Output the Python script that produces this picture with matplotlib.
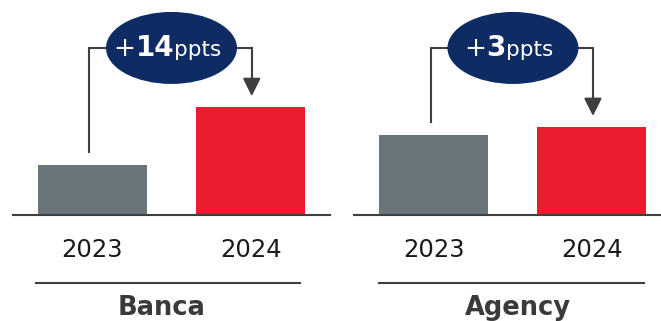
import matplotlib
matplotlib.use("Agg")
import matplotlib.pyplot as plt
from matplotlib.patches import Ellipse
from matplotlib.offsetbox import TextArea, HPacker, AnnotationBbox
import matplotlib.transforms as mtransforms

plt.rcParams['font.family'] = ['DejaVu Sans']

# Data
years = ["2023", "2024"]
segments = ["Banca", "Agency"]
banca_values = [12, 26]
agency_values = [30, 33]
deltas = ["14", "3"]

GREY = "#6a747b"
RED = "#ec1c2f"
NAVY = "#0f2b63"
LINE = "#3f3f3f"
TEXT = "#1a1a1a"
LABEL = "#3a3a3a"

W, H = 661, 321
fig = plt.figure(figsize=(W / 100, H / 100), dpi=100)

# panel layout in pixels
baseline_px = 215
panels = [
    dict(left=13, right=330, xlim=(-0.5, 1.5), ymax=51.8,
         values=banca_values, name_x=0.44, sep=(-0.355, 1.31)),
    dict(left=354, right=661, xlim=(-0.506, 1.437), ymax=80.6,
         values=agency_values, name_x=0.53, sep=(-0.35, 1.33)),
]

for p, name, delta in zip(panels, segments, deltas):
    ax = fig.add_axes([p["left"] / W, (H - baseline_px) / H,
                       (p["right"] - p["left"]) / W, baseline_px / H])
    ax.set_xlim(*p["xlim"])
    ax.set_ylim(0, p["ymax"])
    for s in ["top", "right", "left"]:
        ax.spines[s].set_visible(False)
    ax.spines["bottom"].set_color(LINE)
    ax.spines["bottom"].set_linewidth(1.5)
    ax.set_yticks([])

    x = [0, 1]
    ax.bar(x, p["values"], width=0.69, color=[GREY, RED], zorder=2)
    ax.set_xticks(x, years)
    ax.tick_params(axis="x", length=0, pad=16.5, labelsize=17.5, labelcolor=TEXT)

    # pixel -> data helpers
    dy = p["ymax"] / ax.bbox.height
    dx = (p["xlim"][1] - p["xlim"][0]) / ax.bbox.width
    y_h = 0.777 * p["ymax"]
    y_start = p["values"][0] + 13 * dy
    y_tip = p["values"][1] + 11 * dy
    x_l, x_r = -3 * dx, 1 + 1 * dx

    # bracket from 2023 bar over to 2024 bar
    ax.plot([x_l, x_l, x_r, x_r], [y_start, y_h, y_h, y_tip + 13 * dy],
            color=LINE, lw=1.5, solid_joinstyle="miter", clip_on=False, zorder=3)
    ax.annotate("", xy=(x_r, y_tip), xytext=(x_r, y_tip + 16 * dy),
                arrowprops=dict(arrowstyle="-|>,head_length=0.54,head_width=0.27",
                                mutation_scale=20, color=LINE, lw=1.5,
                                shrinkA=0, shrinkB=0),
                annotation_clip=False, zorder=3)

    # delta badge
    ell = Ellipse((0.5, y_h), width=131 * dx, height=72 * dy,
                  facecolor=NAVY, edgecolor="none", zorder=4, clip_on=False)
    ax.add_patch(ell)
    parts = HPacker(children=[
        TextArea("+", textprops=dict(color="white", fontsize=19)),
        TextArea(delta, textprops=dict(color="white", fontsize=20, fontweight="bold")),
        TextArea("ppts", textprops=dict(color="white", fontsize=15.5)),
    ], align="baseline", pad=0, sep=0)
    ab = AnnotationBbox(parts, (0.5 - 4 * dx, y_h), frameon=False,
                        box_alignment=(0.5, 0.5), annotation_clip=False, zorder=5)
    ax.add_artist(ab)

    # separator and segment name
    trans = mtransforms.blended_transform_factory(ax.transData, ax.transAxes)
    ax.plot(p["sep"], [-0.316, -0.316], color=LINE, lw=1.5, transform=trans,
            clip_on=False)
    ax.text(p["name_x"], (baseline_px - 315) / baseline_px, name,
            transform=trans, ha="center", va="baseline", fontsize=18.5,
            fontweight="bold", color=LABEL)

fig.savefig("out.png", dpi=100)
